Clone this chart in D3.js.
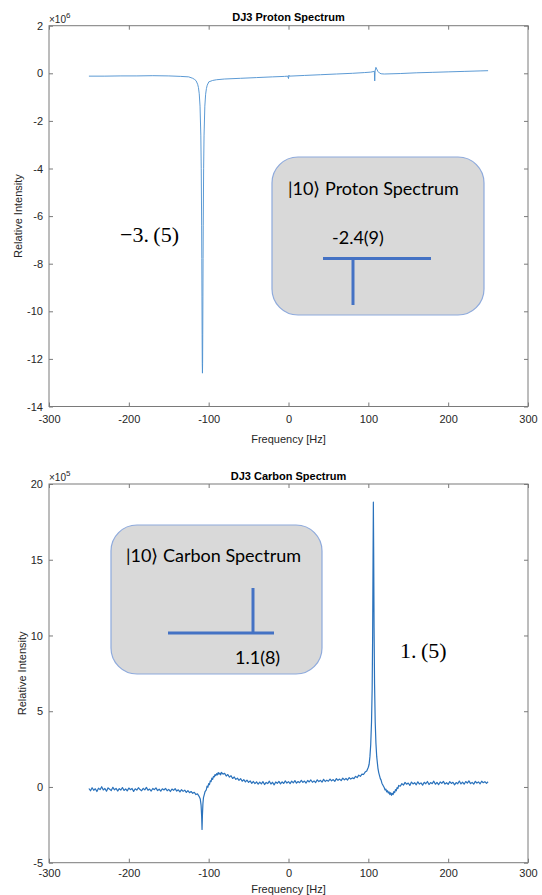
<!DOCTYPE html>
<html><head><meta charset="utf-8">
<script src="https://cdn.jsdelivr.net/npm/d3@7"></script>
<style>body{margin:0;background:#fff}svg{display:block}</style>
</head><body><svg id="c" width="542" height="895"></svg>
<script>
// ---------- data ----------
const xTicks = [-300, -200, -100, 0, 100, 200, 300];
const protonYTicks = [-14, -12, -10, -8, -6, -4, -2, 0, 2];
const carbonYTicks = [-5, 0, 5, 10, 15, 20];
const titles = ["DJ3 Proton Spectrum", "DJ3 Carbon Spectrum"];
const exponents = [6, 5];

// proton spectrum (units of 1e6)
const protonFreq = [-250,-230,-210,-190,-170,-150,-135,-125,-120,-118,
  -115.8,-113.8,-112.8,-111.8,-110.8,-109.8,-109.3,-108.8,-108.6,-108.4,
  -108.2,-108.0,-107.8,-107.6,-107.4,-107.2,-107.0,-106.8,-106.3,-105.8,
  -104.8,-103.8,-102.8,-101.8,-99.8,-95,-90,-80,-60,-40,
  -20,-5,-1,0,0.5,1,20,40,60,80,
  95,103,106,107.5,108,108.5,109.5,110.5,112,114,
  116,120,140,160,180,200,220,240,250];
const protonVal = [-0.12,-0.12,-0.11,-0.11,-0.10,-0.11,-0.13,-0.15,-0.21,-0.25,
  -0.31,-0.46,-0.60,-0.86,-1.38,-2.63,-3.99,-6.41,-7.78,-9.36,
  -10.96,-12.21,-12.60,-12.21,-10.96,-9.36,-7.78,-6.41,-3.99,-2.63,
  -1.38,-0.88,-0.64,-0.50,-0.36,-0.30,-0.27,-0.24,-0.21,-0.18,
  -0.15,-0.13,-0.12,-0.22,-0.08,-0.12,-0.09,-0.06,-0.03,0.00,
  0.03,0.05,0.07,0.09,-0.32,0.10,0.25,0.18,0.08,0.01,
  -0.02,-0.03,-0.01,0.02,0.04,0.06,0.08,0.10,0.11];

// carbon spectrum (units of 1e5)
const carbonFreq = [
  -250,-248,-246,-244,-242,-240,-238,-236,-234,-232,
  -230,-228,-226,-224,-222,-220,-218,-216,-214,-212,
  -210,-208,-206,-204,-202,-200,-198,-196,-194,-192,
  -190,-188,-186,-184,-182,-180,-178,-176,-174,-172,
  -170,-168,-166,-164,-162,-160,-158,-156,-154,-152,
  -150,-148,-146,-144,-142,-140,-138,-136,-134,-132,
  -130,-128,-126,-124,-122,-120,-118,-116,-114,-112,
  -110.5,-109.5,-108.8,-108.3,-107.8,-107.2,-106.5,-105.5,-104.5,
  -103,-102,-101,-100,-99,-98,-97,-96,-95,-94,-93,-92,-91,-90,-89,-88,-87,-86,-85,-84,
  -82,-80,-78,-76,-74,-72,-70,-68,-66,-64,
  -62,-60,-58,-56,-54,-52,-50,-48,-46,-44,
  -42,-40,-38,-36,-34,-32,-30,-28,-26,-24,
  -22,-20,-18,-16,-14,-12,-10,-8,-6,-4,
  -2,0,2,4,6,8,10,12,14,16,
  18,20,22,24,26,28,30,32,34,36,
  38,40,42,44,46,48,50,52,54,56,
  58,60,62,64,66,68,70,72,74,76,
  78,80,82,84,86,88,90,92,94,96,
  98,
  100,101,102,103,104,104.8,105.4,105.9,106.3,106.7,107.2,107.8,108.6,109.5,110.5,
  112,113,114,115,116,117,118,119,120,121,122,123,124,125,126,127,128,129,130,131,132,133,134,135,136,137,138,
  140,142,144,146,148,150,152,154,156,158,
  160,162,164,166,168,170,172,174,176,178,
  180,182,184,186,188,190,192,194,196,198,
  200,202,204,206,208,210,212,214,216,218,
  220,222,224,226,228,230,232,234,236,238,
  240,242,244,246,248,250];
const carbonVal = [
  -0.10,-0.25,-0.05,-0.22,-0.12,-0.30,-0.08,-0.18,0.02,-0.20,
  -0.10,-0.28,-0.06,-0.15,-0.24,-0.02,-0.19,-0.09,-0.27,-0.11,
  -0.20,-0.04,-0.23,-0.13,-0.26,-0.07,-0.18,-0.10,-0.29,-0.12,
  -0.21,-0.05,-0.17,-0.25,-0.09,-0.19,-0.03,-0.22,-0.14,-0.27,
  -0.10,-0.18,-0.06,-0.24,-0.15,-0.28,-0.12,-0.20,-0.09,-0.25,
  -0.16,-0.30,-0.14,-0.22,-0.11,-0.27,-0.19,-0.33,-0.18,-0.29,
  -0.21,-0.36,-0.24,-0.38,-0.30,-0.42,-0.35,-0.50,-0.46,-0.62,
  -0.80,-1.20,-1.90,-2.80,-1.85,-1.10,-0.70,-0.50,-0.30,
  -0.20,0.05,-0.02,0.22,0.15,0.40,0.35,0.58,0.50,0.70,0.66,0.82,0.75,0.88,0.80,0.95,0.84,0.92,0.80,0.96,
  0.85,0.90,0.72,0.82,0.65,0.74,0.56,0.66,0.50,0.58,
  0.44,0.55,0.38,0.48,0.33,0.45,0.30,0.40,0.24,0.36,
  0.22,0.34,0.18,0.32,0.20,0.35,0.16,0.30,0.22,0.38,
  0.19,0.31,0.14,0.33,0.24,0.37,0.20,0.34,0.23,0.40,
  0.26,0.35,0.22,0.38,0.27,0.42,0.25,0.36,0.28,0.44,
  0.30,0.39,0.26,0.43,0.33,0.46,0.31,0.40,0.29,0.47,
  0.35,0.44,0.32,0.50,0.36,0.45,0.38,0.52,0.40,0.49,
  0.37,0.55,0.44,0.52,0.42,0.58,0.47,0.56,0.46,0.62,
  0.52,0.60,0.55,0.70,0.62,0.78,0.70,0.85,0.82,0.98,
  1.05,
  1.30,1.50,2.00,2.80,4.30,6.50,10.0,15.0,18.8,15.5,10.5,6.80,4.30,2.90,2.00,
  1.25,0.95,0.75,0.55,0.45,0.25,0.15,0.05,-0.05,-0.20,-0.15,-0.32,-0.25,-0.40,-0.33,-0.50,-0.38,-0.55,-0.42,-0.50,-0.30,-0.38,-0.18,-0.25,-0.05,-0.10,0.10,
  0.05,0.22,0.12,0.30,0.18,0.26,0.10,0.32,0.20,0.28,
  0.14,0.34,0.19,0.27,0.12,0.31,0.21,0.36,0.16,0.29,
  0.22,0.38,0.18,0.30,0.15,0.33,0.24,0.37,0.19,0.28,
  0.17,0.35,0.23,0.31,0.14,0.29,0.21,0.39,0.20,0.32,
  0.18,0.36,0.25,0.40,0.22,0.30,0.19,0.37,0.26,0.33,
  0.21,0.38,0.28,0.35,0.24,0.34];

// ---------- drawing ----------
const svg = d3.select("#c");
svg.append("rect").attr("width", 542).attr("height", 895).attr("fill", "#fff");
const FONT = "'Liberation Sans', Arial, Helvetica, sans-serif";
const AX = "#7a7a7a", TXT = "#262626";

function panel(cfg) {
  const x = d3.scaleLinear().domain([-300, 300]).range([cfg.l, cfg.r]);
  const y = d3.scaleLinear().domain(cfg.yd).range([cfg.b, cfg.t]);
  const g = svg.append("g");
  const fmt = d => String(d);

  const ax = (axis, tr) => {
    const a = g.append("g").attr("transform", tr).call(axis);
    a.select(".domain").remove();
    a.selectAll(".tick line").attr("stroke", AX);
    a.selectAll("text").attr("fill", TXT).attr("font-family", FONT).attr("font-size", 11);
    return a;
  };
  ax(d3.axisBottom(x).tickValues(xTicks).tickFormat(fmt).tickSizeInner(-4).tickSizeOuter(0).tickPadding(cfg.xpad), `translate(0,${cfg.b})`);
  ax(d3.axisTop(x).tickValues(xTicks).tickFormat("").tickSizeInner(-4).tickSizeOuter(0), `translate(0,${cfg.t})`);
  ax(d3.axisLeft(y).tickValues(cfg.yt).tickFormat(fmt).tickSizeInner(-4).tickSizeOuter(0).tickPadding(6), `translate(${cfg.l},0)`);
  ax(d3.axisRight(y).tickValues(cfg.yt).tickFormat("").tickSizeInner(-4).tickSizeOuter(0), `translate(${cfg.r},0)`);

  g.append("rect").attr("x", cfg.l).attr("y", cfg.t).attr("width", cfg.r - cfg.l).attr("height", cfg.b - cfg.t)
    .attr("fill", "none").attr("stroke", AX).attr("stroke-width", 1);

  const pts = cfg.fx.map((f, i) => [f, cfg.fy[i]]);
  g.append("path").datum(pts)
    .attr("d", d3.line().x(d => x(d[0])).y(d => y(d[1])))
    .attr("fill", "none").attr("stroke", cfg.color).attr("stroke-width", cfg.lw).attr("stroke-linejoin", "round");

  g.append("text").attr("x", (cfg.l + cfg.r) / 2).attr("y", cfg.t - 4.5).attr("text-anchor", "middle")
    .attr("font-family", FONT).attr("font-size", 11).attr("font-weight", "bold").attr("fill", "#000").text(cfg.title);

  const e = g.append("text").attr("x", cfg.l).attr("y", cfg.t - 3).attr("font-family", FONT).attr("font-size", 10).attr("fill", TXT);
  e.append("tspan").text("\u00d710");
  e.append("tspan").attr("dy", -5).attr("font-size", 8).text(cfg.exp);

  g.append("text").attr("x", (cfg.l + cfg.r) / 2).attr("y", cfg.b + cfg.xlab).attr("text-anchor", "middle")
    .attr("font-family", FONT).attr("font-size", 11).attr("fill", TXT).text("Frequency [Hz]");
  g.append("text").attr("transform", `translate(${cfg.ylx},${(cfg.t + cfg.b) / 2}) rotate(-90)`)
    .attr("text-anchor", "middle").attr("font-family", FONT).attr("font-size", 11).attr("fill", TXT).text("Relative Intensity");
}

panel({l: 49, r: 528, t: 25.7, b: 406.5, yd: [-14, 2], yt: protonYTicks, fx: protonFreq, fy: protonVal,
  color: "#4a8fcf", lw: 0.9, title: titles[0], exp: exponents[0], xpad: 9, xlab: 36, ylx: 22});
panel({l: 49, r: 528, t: 484, b: 862.7, yd: [-5, 20], yt: carbonYTicks, fx: carbonFreq, fy: carbonVal,
  color: "#2a72bc", lw: 1.2, title: titles[1], exp: exponents[1], xpad: 7, xlab: 30, ylx: 26});

// ---------- annotations ----------
const BOXF = "Lato, 'Open Sans', sans-serif";
const MATHF = "'Liberation Serif', 'DejaVu Serif', serif";
function box(x0, y0, w, h) {
  svg.append("rect").attr("x", x0).attr("y", y0).attr("width", w).attr("height", h).attr("rx", 26).attr("ry", 26)
    .attr("fill", "#d9d9d9").attr("stroke", "#8eaadc").attr("stroke-width", 1.2);
}
function txt(x0, y0, s, fam, size) {
  svg.append("text").attr("x", x0).attr("y", y0).attr("font-family", fam).attr("font-size", size).attr("fill", "#000").text(s);
}
function seg(x1, y1, x2, y2) {
  svg.append("line").attr("x1", x1).attr("y1", y1).attr("x2", x2).attr("y2", y2).attr("stroke", "#4472c4").attr("stroke-width", 3);
}
box(272, 157, 212, 158);
txt(288, 195, "|10\u27e9 Proton Spectrum", BOXF, 18);
txt(332, 244, "-2.4(9)", BOXF, 18);
seg(323, 258.5, 431, 258.5);
seg(353, 258.5, 353, 305);

box(111, 525, 211, 149);
txt(126, 562, "|10\u27e9 Carbon Spectrum", BOXF, 18);
seg(168, 633, 274, 633);
seg(253, 588, 253, 633);
txt(235, 664, "1.1(8)", BOXF, 18);

txt(120, 242, "\u22123.\u2009(5)", MATHF, 22);
txt(400, 658, "1.\u2009(5)", MATHF, 22);
</script></body></html>
